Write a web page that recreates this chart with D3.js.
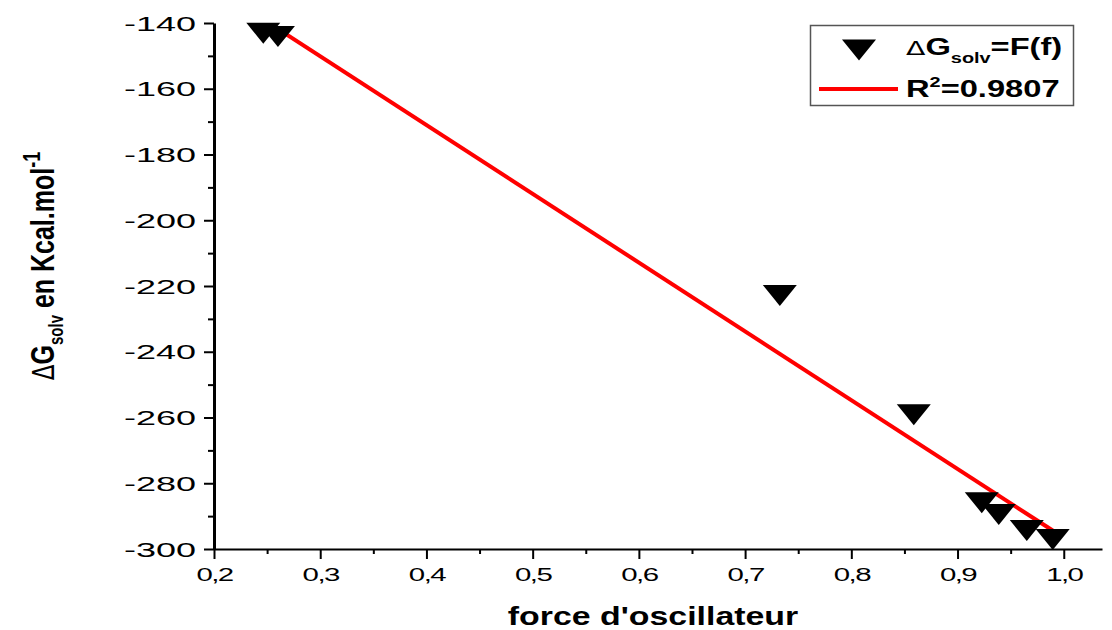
<!DOCTYPE html>
<html>
<head>
<meta charset="utf-8">
<script src="https://cdn.jsdelivr.net/npm/d3@7"></script>
<style>
  html, body { margin: 0; padding: 0; background: #fff; }
  svg { display: block; font-family: "Liberation Sans", Arial, sans-serif; }
</style>
</head>
<body>
<svg id="chart" width="1112" height="630"></svg>
<script>
// Oscillator strength vs solvation free energy
const oscillatorStrength = [0.2464, 0.2602, 0.7327, 0.8588, 0.9228, 0.9388, 0.9652, 0.9896];
const deltaGsolv = [-143.1, -144.1, -222.9, -259.2, -285.9, -289.5, -294.4, -297.1];

const xTickValues = [0.2, 0.3, 0.4, 0.5, 0.6, 0.7, 0.8, 0.9, 1.0];
const xMinorValues = [0.25, 0.35, 0.45, 0.55, 0.65, 0.75, 0.85, 0.95];
const yTickValues = [-140, -160, -180, -200, -220, -240, -260, -280, -300];
const yMinorValues = [-150, -170, -190, -210, -230, -250, -270, -290];

const rSquaredLabel = "0.9807";

const svg = d3.select("#chart");

const x = d3.scaleLinear().domain([0.2, 1.036]).range([214, 1102]);
const y = d3.scaleLinear().domain([-300, -140]).range([549, 23]);

// least-squares fit of the points
const n = oscillatorStrength.length;
const mx = d3.mean(oscillatorStrength), my = d3.mean(deltaGsolv);
let sxy = 0, sxx = 0;
for (let i = 0; i < n; i++) {
  sxy += (oscillatorStrength[i] - mx) * (deltaGsolv[i] - my);
  sxx += (oscillatorStrength[i] - mx) ** 2;
}
const slope = sxy / sxx, intercept = my - slope * mx;
const fitX = d3.extent(oscillatorStrength);
const fitLine = fitX.map(v => [v, intercept + slope * v]);

svg.append("clipPath").attr("id", "plotClip")
  .append("rect").attr("x", 214).attr("y", 23).attr("width", 888).attr("height", 526);

const fmtX = v => d3.format(".1f")(v).replace(".", ",");
const fmtY = v => String(v);   // plain hyphen minus

// x axis
const gx = svg.append("g").attr("transform", "translate(0,549)");
gx.call(d3.axisBottom(x).tickValues(xMinorValues).tickSize(5).tickSizeOuter(0).tickFormat(""))
  .call(g => g.select(".domain").remove());
gx.append("g").call(d3.axisBottom(x).tickValues(xTickValues).tickSize(10).tickSizeOuter(0).tickFormat(fmtX))
  .call(g => g.select(".domain").attr("stroke-width", 2))
  .call(g => g.selectAll("text")
    .attr("y", null).attr("dy", null)
    .attr("transform", "translate(0,32) scale(1.55,1)")
    .attr("font-size", 19).attr("letter-spacing", "-1px")
    .attr("fill", "#000").attr("font-family", "Liberation Sans, Arial, sans-serif"));
gx.selectAll(".tick line").attr("stroke-width", 2);

// y axis
const gy = svg.append("g").attr("transform", "translate(214,0)");
gy.call(d3.axisLeft(y).tickValues(yMinorValues).tickSize(6).tickSizeOuter(0).tickFormat(""))
  .call(g => g.select(".domain").remove());
gy.append("g").call(d3.axisLeft(y).tickValues(yTickValues).tickSize(10).tickSizeOuter(0).tickFormat(fmtY))
  .call(g => g.select(".domain").attr("stroke-width", 3))
  .call(g => g.selectAll("text")
    .attr("x", null).attr("dy", "0.36em")
    .attr("transform", "translate(-18,0) scale(1.8,1)")
    .attr("font-size", 20)
    .attr("fill", "#000").attr("font-family", "Liberation Sans, Arial, sans-serif"));
gy.selectAll(".tick line").attr("stroke-width", 2);

// fitted line
svg.append("path")
  .attr("clip-path", "url(#plotClip)")
  .attr("d", d3.line().x(d => x(d[0])).y(d => y(d[1]))(fitLine))
  .attr("fill", "none").attr("stroke", "#ff0000").attr("stroke-width", 4);

// markers
const tri = "M-17,-10.5L17,-10.5L0,10.5Z";
svg.append("g").selectAll("path")
  .data(oscillatorStrength.map((v, i) => [v, deltaGsolv[i]]))
  .join("path")
  .attr("d", tri)
  .attr("transform", d => `translate(${x(d[0])},${y(d[1])})`)
  .attr("fill", "#000");

// axis titles
svg.append("text")
  .attr("transform", "translate(653,625) scale(1.355,1)")
  .attr("text-anchor", "middle")
  .attr("font-size", 25).attr("font-weight", "bold")
  .text("force d'oscillateur");

const yTitle = svg.append("text")
  .attr("transform", "translate(54,266) scale(1.3,1) rotate(-90)")
  .attr("text-anchor", "middle")
  .attr("font-size", 25).attr("font-weight", "bold");
yTitle.append("tspan").attr("font-weight", "normal").attr("font-family", "DejaVu Sans").attr("font-size", 23).text("Δ");
yTitle.append("tspan").text("G");
yTitle.append("tspan").attr("font-size", 15).attr("dy", 7).text("solv");
yTitle.append("tspan").attr("dy", -7).text(" en Kcal.mol");
yTitle.append("tspan").attr("font-size", 18).attr("dy", -11).text("-1");

// legend
const lg = svg.append("g");
lg.append("rect").attr("x", 810.5).attr("y", 25.5).attr("width", 263).attr("height", 80)
  .attr("fill", "#fff").attr("stroke", "#555").attr("stroke-width", 1.5);
lg.append("path").attr("d", tri).attr("transform", "translate(859,50)").attr("fill", "#000");
lg.append("line").attr("x1", 819).attr("x2", 898).attr("y1", 89).attr("y2", 89)
  .attr("stroke", "#ff0000").attr("stroke-width", 4);

const t1 = lg.append("text")
  .attr("transform", "translate(906,55) scale(1.42,1)")
  .attr("font-size", 23).attr("font-weight", "bold");
t1.append("tspan").attr("font-weight", "normal").attr("font-family", "DejaVu Sans").attr("font-size", 20).text("Δ");
t1.append("tspan").text("G");
t1.append("tspan").attr("font-size", 14).attr("dy", 8).text("solv");
t1.append("tspan").attr("dy", -8).text("=F(f)");

const t2 = lg.append("text")
  .attr("transform", "translate(906,97) scale(1.42,1)")
  .attr("font-size", 23).attr("font-weight", "bold");
t2.append("tspan").text("R");
t2.append("tspan").attr("font-size", 14).attr("dy", -10).text("2");
t2.append("tspan").attr("dy", 10).text("=" + rSquaredLabel);
</script>
</body>
</html>
